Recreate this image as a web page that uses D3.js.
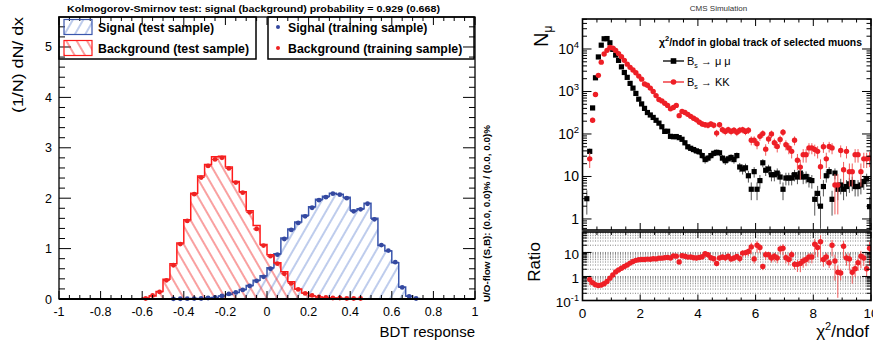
<!DOCTYPE html>
<html>
<head>
<meta charset="utf-8">
<script src="https://cdn.jsdelivr.net/npm/d3@7"></script>
<style>
body { margin: 0; background: #fff; overflow: hidden; }
text { font-family: "Liberation Sans", Arial, sans-serif; }
</style>
</head>
<body>
<svg id="chart" width="873" height="343"></svg>
<script>
// ---------- left panel: TMVA BDT response (bins of 1/30 starting at -0.6)
var bdtLo = -0.6, bdtW = 1 / 30;
var sigTest  = [0,0,0,0,0.002,0.004,0.007,0.01,0.012,0.02,0.03,0.06,0.09,0.13,0.19,0.27,0.37,0.46,0.62,0.90,1.21,1.39,1.53,1.66,1.83,1.98,2.04,2.10,2.08,2.02,1.76,1.79,1.90,1.60,1.06,0.95,0.72,0.24,0.06,0.01,0,0];
var sigTrain = [0,0,0,0,0.003,0.005,0.006,0.008,0.01,0.02,0.03,0.06,0.10,0.13,0.18,0.26,0.36,0.44,0.60,0.88,1.19,1.37,1.51,1.64,1.81,1.96,2.02,2.09,2.07,2.00,1.74,1.78,1.89,1.58,1.07,0.96,0.73,0.23,0.05,0.01,0,0];
var bkgTest  = [0.02,0.06,0.15,0.39,0.70,1.11,1.57,2.10,2.44,2.67,2.82,2.83,2.62,2.33,2.13,1.75,1.46,1.08,0.88,0.72,0.54,0.34,0.20,0.12,0.06,0.04,0.03,0.02,0.01,0.01,0.01,0,0,0,0,0,0,0,0,0,0,0];
var bkgTrain = [0.01,0.07,0.14,0.37,0.67,1.09,1.55,2.08,2.41,2.64,2.77,2.80,2.59,2.31,2.11,1.72,1.39,1.06,0.85,0.70,0.50,0.31,0.19,0.11,0.07,0.04,0.03,0.02,0.02,0.01,0.01,0.01,0,0,0,0,0,0,0,0,0,0];
var bdtTicks = [-1,-0.8,-0.6,-0.4,-0.2,0,0.2,0.4,0.6,0.8,1];
var densTicks = [0,1,2,3,4,5];

// ---------- right panel: chi2/ndof, bins of 0.1 from 0
var chiW = 0.1;
var nMuMu = [null,3,39,410,2100,6500,12300,17400,17600,14000,9800,7200,5400,3800,2800,2150,1550,1200,900,660,
  510,400,320,280,245,210,180,148,115,116,88,86,87,82,75,62,50,46,43,40,
  38,31,25,27,31,35,37,36,27,23.5,26,28,25,31,16.7,15,16,10.4,5,13,
  5,8,21,14,15,11,11,12,9.7,5,9.2,9.2,9.2,11,9.7,12,9.7,10,8.4,8,
  2.9,4,2,5.8,10.4,13,2.9,12,5,6.3,5,5.8,6.7,7.2,5.8,5.8,6.3,7.6,8.7,1.95];
var nKK = [null,null,26,210,850,2400,4900,7600,9300,10800,10500,9200,7800,6600,5400,4400,3700,3200,2750,2300,
  1950,1500,1400,1200,1000,800,650,600,530,470,390,420,470,270,340,320,290,260,235,215,
  190,172,165,160,172,160,105,166,126,115,126,115,122,110,122,126,115,122,71,71,
  59,88,102,44,76,100,62,51,74,110,56,47,39,71,24,16.6,32.6,32.6,47,47,
  43,39,17,50,26,51,47,6.3,6.3,41,14.4,39,13,13,32.6,32.6,13,26,26,27];
var ratioKK = [null,null,0.75,0.55,0.45,0.42,0.44,0.5,0.62,0.85,1.15,1.55,1.85,2.2,2.6,3.0,3.6,4.2,4.7,5.0,
  5.1,5.1,5.3,5.2,5.5,5.4,5.8,5.8,6.0,6.2,5.9,7.2,7.0,4.0,7.3,6.9,6.4,6.5,6.0,5.9,
  6.2,6.6,8.8,8.0,6.0,5.5,3.5,5.9,6.5,6.0,6.9,5.4,5.9,6.8,5.6,9.4,9.8,11,17,5.4,
  20,16,2.6,8.1,8.0,5.9,6.9,5.9,14,15,6.0,5.1,8.1,3.2,3.2,3.5,4.4,5.1,6.5,6.5,
  22,16,28,5.1,6.5,3.7,20,4.4,1.5,1.4,18,5.9,5.4,1.5,2.1,3.7,6.9,5.9,2.1,15];
var kkWeight = 4; // event weight of the KK sample, used for the Poisson error bars
var chiTicks = [0,2,4,6,8,10];
var countDecades = [1,10,100,1000,10000];
var ratioDecades = [0.1,1,10];

var svg = d3.select("#chart");
var defs = svg.append("defs");

function hatch(id, angle, color) {
  var p = defs.append("pattern").attr("id", id)
    .attr("patternUnits", "userSpaceOnUse")
    .attr("width", 9).attr("height", 10)
    .attr("patternTransform", "rotate(" + angle + ")");
  p.append("line").attr("x1", 1).attr("y1", 0).attr("x2", 1).attr("y2", 10)
    .attr("stroke", color).attr("stroke-width", 0.9);
}
hatch("hSig", 30, "#6f8fd6");
hatch("hBkg", -30, "#f22c2c");

// ================= LEFT PANEL =================
var xL = d3.scaleLinear().domain([-1, 1]).range([59, 475]);
var yL = d3.scaleLinear().domain([0, 5.595]).range([299, 17]);

function stepPts(vals) {
  var p = [[bdtLo, 0]];
  vals.forEach(function(v, k) { p.push([bdtLo + k * bdtW, v]); });
  p.push([bdtLo + vals.length * bdtW, 0]);
  return p;
}
var stepArea = d3.area().curve(d3.curveStepAfter)
  .x(function(d) { return xL(d[0]); }).y0(yL(0)).y1(function(d) { return yL(d[1]); });
var stepLine = d3.line().curve(d3.curveStepAfter)
  .x(function(d) { return xL(d[0]); }).y(function(d) { return yL(d[1]); });

var hists = [
  {vals: sigTest, fill: "url(#hSig)", line: "#3a56ad"},
  {vals: bkgTest, fill: "url(#hBkg)", line: "#ff1a1a"}
];
hists.forEach(function(h) {
  svg.append("path").attr("d", stepArea(stepPts(h.vals))).attr("fill", h.fill);
  svg.append("path").attr("d", stepLine(stepPts(h.vals))).attr("fill", "none")
    .attr("stroke", h.line).attr("stroke-width", 1.5);
});

var trains = [
  {vals: sigTrain, color: "#3448a0"},
  {vals: bkgTrain, color: "#ee2222"}
];
trains.forEach(function(t) {
  var g = svg.append("g");
  t.vals.forEach(function(v, k) {
    if (v <= 0) return;
    var a = bdtLo + k * bdtW;
    g.append("line").attr("x1", xL(a)).attr("x2", xL(a + bdtW))
      .attr("y1", yL(v)).attr("y2", yL(v)).attr("stroke", t.color).attr("stroke-width", 1);
    g.append("circle").attr("cx", xL(a + bdtW / 2)).attr("cy", yL(v)).attr("r", 2.4).attr("fill", t.color);
  });
});

// frame + ticks
svg.append("rect").attr("x", xL(-1)).attr("y", yL.range()[1])
  .attr("width", xL(1) - xL(-1)).attr("height", yL(0) - yL.range()[1])
  .attr("fill", "none").attr("stroke", "#000").attr("stroke-width", 1.3);
svg.append("line").attr("x1", xL(-1)).attr("x2", xL(1)).attr("y1", yL(0)).attr("y2", yL(0))
  .attr("stroke", "#000").attr("stroke-width", 2);

var tk = svg.append("g").attr("stroke", "#000").attr("stroke-width", 1);
d3.range(0, 41).forEach(function(i) {
  var v = -1 + i * 0.05, len = (i % 4 === 0) ? 8 : 4;
  tk.append("line").attr("x1", xL(v)).attr("x2", xL(v)).attr("y1", yL(0)).attr("y2", yL(0) - len);
  tk.append("line").attr("x1", xL(v)).attr("x2", xL(v)).attr("y1", yL.range()[1]).attr("y2", yL.range()[1] + len);
});
d3.range(0, 28).forEach(function(i) {
  var v = i * 0.2, len = (i % 5 === 0) ? 12 : 6;
  tk.append("line").attr("x1", xL(-1)).attr("x2", xL(-1) + len).attr("y1", yL(v)).attr("y2", yL(v));
  tk.append("line").attr("x1", xL(1)).attr("x2", xL(1) - len).attr("y1", yL(v)).attr("y2", yL(v));
});

svg.append("g").selectAll("text").data(bdtTicks).join("text")
  .attr("x", function(d) { return xL(d); }).attr("y", yL(0) + 17)
  .attr("text-anchor", "middle").attr("font-size", 12.5).text(function(d) { return String(d); });
svg.append("g").selectAll("text").data(densTicks).join("text")
  .attr("x", 52).attr("y", function(d) { return yL(d) + 4.5; })
  .attr("text-anchor", "end").attr("font-size", 12.5).text(function(d) { return d; });

svg.append("text").attr("x", 475).attr("y", 337).attr("text-anchor", "end")
  .attr("font-size", 15).text("BDT response");
svg.append("text").attr("transform", "translate(23,17) rotate(-90)").attr("text-anchor", "end")
  .attr("font-size", 15.5).attr("textLength", 96).attr("lengthAdjust", "spacingAndGlyphs")
  .text("(1/N) dN/ dx");
svg.append("text").attr("x", 67).attr("y", 12).attr("font-size", 9.5).attr("font-weight", "bold")
  .attr("textLength", 373).attr("lengthAdjust", "spacingAndGlyphs")
  .text("Kolmogorov-Smirnov test: signal (background) probability = 0.929 (0.668)");
svg.append("text").attr("transform", "translate(490,302) rotate(-90)")
  .attr("font-size", 8.5).attr("font-weight", "bold")
  .attr("textLength", 177).attr("lengthAdjust", "spacingAndGlyphs")
  .text("U/O-flow (S,B): (0.0, 0.0)% / (0.0, 0.0)%");

// legends
svg.append("rect").attr("x", 59).attr("y", 17).attr("width", 197).attr("height", 42)
  .attr("fill", "none").attr("stroke", "#000").attr("stroke-width", 1.5);
svg.append("rect").attr("x", 268).attr("y", 17).attr("width", 206).attr("height", 42)
  .attr("fill", "none").attr("stroke", "#000").attr("stroke-width", 1.5);
var legL = [
  {y: 27, fill: "url(#hSig)", line: "#3a56ad", dot: "#3448a0", test: "Signal (test sample)", train: "Signal (training sample)"},
  {y: 48, fill: "url(#hBkg)", line: "#ff1a1a", dot: "#ee2222", test: "Background (test sample)", train: "Background (training sample)"}
];
legL.forEach(function(e) {
  svg.append("rect").attr("x", 64).attr("y", e.y - 7.5).attr("width", 28).attr("height", 15)
    .attr("fill", e.fill).attr("stroke", e.line).attr("stroke-width", 1.2);
  svg.append("text").attr("x", 98).attr("y", e.y + 4.5).attr("font-size", 12.3)
    .attr("font-weight", "bold").text(e.test);
  svg.append("circle").attr("cx", 278).attr("cy", e.y).attr("r", 2).attr("fill", e.dot);
  svg.append("text").attr("x", 288).attr("y", e.y + 4.5).attr("font-size", 12.3)
    .attr("font-weight", "bold").text(e.train);
});

// ================= RIGHT PANEL =================
var xR = d3.scaleLinear().domain([0, 10]).range([582.5, 871]);
var yU = d3.scaleLog().domain([0.55, 50800]).range([230, 19]);
var yR = d3.scaleLog().domain([0.1, 71]).range([300.5, 232]);

defs.append("clipPath").attr("id", "cU").append("rect")
  .attr("x", xR(0)).attr("y", yU.range()[1]).attr("width", xR(10) - xR(0)).attr("height", yU.range()[0] - yU.range()[1]);
defs.append("clipPath").attr("id", "cR").append("rect")
  .attr("x", xR(0)).attr("y", yR.range()[1]).attr("width", xR(10) - xR(0)).attr("height", yR.range()[0] - yR.range()[1]);

svg.append("text").attr("x", 718.5).attr("y", 11).attr("text-anchor", "middle")
  .attr("font-size", 8).attr("fill", "#333").text("CMS Simulation");

// ratio grid
var grid = svg.append("g").attr("clip-path", "url(#cR)").attr("stroke", "#808080")
  .attr("stroke-width", 1).attr("stroke-dasharray", "1,1.5");
[0.1, 1, 10].forEach(function(dec) {
  d3.range(1, 10).forEach(function(m) {
    var v = m * dec;
    if (v > yR.domain()[1]) return;
    grid.append("line").attr("x1", xR(0)).attr("x2", xR(10)).attr("y1", yR(v)).attr("y2", yR(v));
  });
});

function center(i) { return (i + 0.5) * chiW; }

var up = svg.append("g").attr("clip-path", "url(#cU)");
function errBar(g, x, y, v, e, color, lo) {
  var y0 = (v - e) > lo ? y(v - e) : y.range()[0] + 5;
  g.append("line").attr("x1", x).attr("x2", x).attr("y1", y0).attr("y2", y(v + e))
    .attr("stroke", color).attr("stroke-width", 1);
}
nMuMu.forEach(function(v, i) {
  if (v == null) return;
  errBar(up, xR(center(i)), yU, v, Math.sqrt(v), "#555", yU.domain()[0]);
});
nMuMu.forEach(function(v, i) {
  if (v == null) return;
  up.append("rect").attr("x", xR(center(i)) - 2.6).attr("y", yU(v) - 2.6)
    .attr("width", 5.2).attr("height", 5.2).attr("fill", "#000");
});
nKK.forEach(function(v, i) {
  if (v == null) return;
  errBar(up, xR(center(i)), yU, v, Math.sqrt(v * kkWeight), "#f25a5a", yU.domain()[0]);
});
nKK.forEach(function(v, i) {
  if (v == null) return;
  up.append("circle").attr("cx", xR(center(i))).attr("cy", yU(v)).attr("r", 2.7).attr("fill", "#ee1f26");
});

var lo = svg.append("g").attr("clip-path", "url(#cR)");
ratioKK.forEach(function(r, i) {
  if (r == null) return;
  var b = nMuMu[i], k = nKK[i];
  var rel = Math.sqrt(1 / b + kkWeight / k);
  errBar(lo, xR(center(i)), yR, r, r * rel, "#f25a5a", yR.domain()[0]);
});
ratioKK.forEach(function(r, i) {
  if (r == null) return;
  lo.append("circle").attr("cx", xR(center(i))).attr("cy", yR(r)).attr("r", 2.7).attr("fill", "#ee1f26");
});

// frames
[yU, yR].forEach(function(y) {
  svg.append("rect").attr("x", xR(0)).attr("y", y.range()[1]).attr("width", xR(10) - xR(0))
    .attr("height", y.range()[0] - y.range()[1]).attr("fill", "none")
    .attr("stroke", "#000").attr("stroke-width", 1.6);
});

function logTicks(y, decades, major, minor) {
  var g = svg.append("g").attr("stroke", "#000").attr("stroke-width", 1);
  var d0 = y.domain()[0], d1 = y.domain()[1];
  [decades[0] / 10].concat(decades).forEach(function(dec) {
    d3.range(1, 10).forEach(function(m) {
      var v = m * dec;
      if (v < d0 || v > d1) return;
      var len = m === 1 ? major : minor;
      g.append("line").attr("x1", xR(0)).attr("x2", xR(0) + len).attr("y1", y(v)).attr("y2", y(v));
      g.append("line").attr("x1", xR(10)).attr("x2", xR(10) - len).attr("y1", y(v)).attr("y2", y(v));
    });
  });
}
logTicks(yU, countDecades, 9, 4.5);
logTicks(yR, ratioDecades, 9, 4.5);

function xTicks(y, major, minor) {
  var g = svg.append("g").attr("stroke", "#000").attr("stroke-width", 1);
  var yb = y.range()[0], yt = y.range()[1];
  d3.range(0, 21).forEach(function(i) {
    var v = i * 0.5, len = (i % 4 === 0) ? major : minor;
    g.append("line").attr("x1", xR(v)).attr("x2", xR(v)).attr("y1", yb).attr("y2", yb - len);
    g.append("line").attr("x1", xR(v)).attr("x2", xR(v)).attr("y1", yt).attr("y2", yt + len);
  });
}
xTicks(yU, 7, 3.5);
xTicks(yR, 6, 3);

function powLabel(g, v, x, y, size) {
  var e = Math.round(Math.log10(v));
  var t = g.append("text").attr("x", x).attr("y", y).attr("text-anchor", "end").attr("font-size", size);
  if (e === 0) { t.text("1"); return; }
  if (e === 1) { t.text("10"); return; }
  t.append("tspan").text("10");
  t.append("tspan").attr("dy", -size * 0.45).attr("font-size", size * 0.68).text(e < 0 ? "-" + (-e) : String(e));
}
var labs = svg.append("g");
countDecades.forEach(function(v) { powLabel(labs, v, 579, yU(v) + 5, 14); });
ratioDecades.forEach(function(v) { powLabel(labs, v, 579, yR(v) + 6.5, 13.5); });
svg.append("g").selectAll("text").data(chiTicks).join("text")
  .attr("x", function(d) { return xR(d); }).attr("y", 318).attr("text-anchor", "middle")
  .attr("font-size", 13.5).text(function(d) { return d; });

// axis titles
var nt = svg.append("text").attr("transform", "translate(548,47) rotate(-90)").attr("font-size", 20);
nt.append("tspan").text("N");
nt.append("tspan").attr("dy", 4).attr("font-size", 12).text("μ");
svg.append("text").attr("transform", "translate(540,262) rotate(-90)").attr("text-anchor", "middle")
  .attr("font-size", 17).text("Ratio");
var ct = svg.append("text").attr("x", 869).attr("y", 337).attr("text-anchor", "end").attr("font-size", 17);
ct.append("tspan").text("χ");
ct.append("tspan").attr("dy", -7).attr("font-size", 11).text("2");
ct.append("tspan").attr("dy", 7).text("/ndof");

// right legend
var lt = svg.append("text").attr("x", 659).attr("y", 46).attr("font-size", 11).attr("font-weight", "bold")
  .attr("textLength", 203).attr("lengthAdjust", "spacingAndGlyphs");
lt.append("tspan").text("χ");
lt.append("tspan").attr("dy", -5).attr("font-size", 8).text("2");
lt.append("tspan").attr("dy", 5).text("/ndof in global track of selected muons");
var legR = [
  {y: 61, color: "#000", name: "μ μ", square: true},
  {y: 82, color: "#ee1f26", name: "KK", square: false}
];
legR.forEach(function(e) {
  svg.append("line").attr("x1", 663).attr("x2", 684).attr("y1", e.y).attr("y2", e.y)
    .attr("stroke", e.color).attr("stroke-width", 1.3);
  if (e.square) {
    svg.append("rect").attr("x", 673.5 - 2.8).attr("y", e.y - 2.8).attr("width", 5.6).attr("height", 5.6).attr("fill", e.color);
  } else {
    svg.append("circle").attr("cx", 673.5).attr("cy", e.y).attr("r", 2.8).attr("fill", e.color);
  }
  var t = svg.append("text").attr("x", 687).attr("y", e.y + 4).attr("font-size", 11);
  t.append("tspan").text("B");
  t.append("tspan").attr("dy", 2.5).attr("font-size", 7).text("s");
  t.append("tspan").attr("dy", -2.5).text(" → " + e.name);
});
</script>
</body>
</html>
